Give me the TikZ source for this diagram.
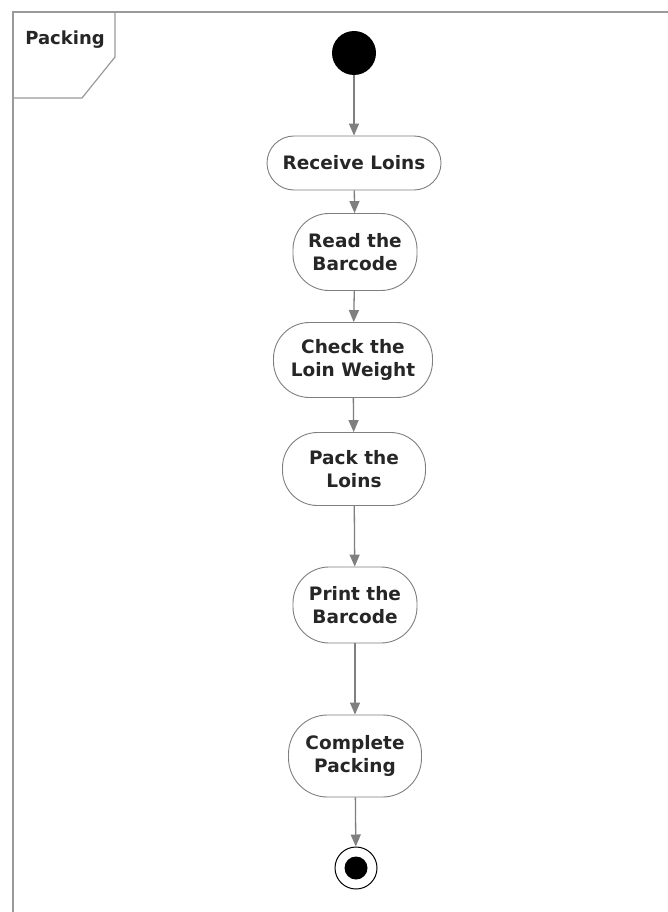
\documentclass[tikz,border=0pt]{standalone}
\usepackage{fontspec}
\setmainfont{DejaVu Sans}
\usetikzlibrary{arrows.meta}
\definecolor{linegray}{HTML}{7F7F7F}
\definecolor{framegray}{HTML}{9A9A9A}
\definecolor{textgray}{HTML}{262626}
\tikzset{
  act/.style={draw=linegray, line width=0.9pt, fill=white, align=center,
    inner sep=0pt, font=\bfseries\fontsize{18.5}{22.5}\selectfont, text=textgray},
  flow/.style={draw=linegray, line width=1.3pt,
    -{Triangle[length=12pt,width=10pt,fill=linegray]}},
}
\begin{document}
\begin{tikzpicture}[x=1pt,y=-1pt]
  \useasboundingbox (0,0) rectangle (668,912);
  \fill[white] (0,0) rectangle (668,912);
  % frame and name tab
  \draw[framegray, line width=1.6pt] (13,930) -- (13,12) -- (690,12);
  \draw[framegray, line width=1.2pt] (115,12) -- (115,57) -- (82,98) -- (13,98);
  \node[font=\bfseries\fontsize{18}{22}\selectfont, text=textgray] (frame) at (65,40) {Packing};
  % initial and final states
  \node[circle, fill=black, minimum size=44pt, inner sep=0pt] (start) at (354,53) {};
  \node[circle, draw=black, line width=1pt, fill=white, minimum size=42pt, inner sep=0pt] (finish) at (356,868) {};
  \node[circle, fill=black, minimum size=23pt, inner sep=0pt] at (finish) {};
  % actions
  \node[act, minimum width=174pt, minimum height=54pt, rounded corners=27pt] (receive) at (354,163) {Receive Loins};
  \node[act, minimum width=124pt, minimum height=77pt, rounded corners=36pt] (read) at (355,252) {Read the\\Barcode};
  \node[act, minimum width=159pt, minimum height=75pt, rounded corners=36pt] (check) at (353,360) {Check the\\Loin Weight};
  \node[act, minimum width=143pt, minimum height=73pt, rounded corners=35pt] (pack) at (354,469) {Pack the\\Loins};
  \node[act, minimum width=124pt, minimum height=76pt, rounded corners=36pt] (print) at (355,605) {Print the\\Barcode};
  \node[act, minimum width=133pt, minimum height=82pt, rounded corners=39pt] (complete) at (355,756) {Complete\\Packing};
  % control flow
  \draw[flow] (start) -- (receive);
  \draw[flow] (receive) -- (read);
  \draw[flow] (read) -- (check);
  \draw[flow] (check) -- (pack);
  \draw[flow] (pack) -- (print);
  \draw[flow] (print) -- (complete);
  \draw[flow] (complete) -- (finish);
\end{tikzpicture}
\end{document}
